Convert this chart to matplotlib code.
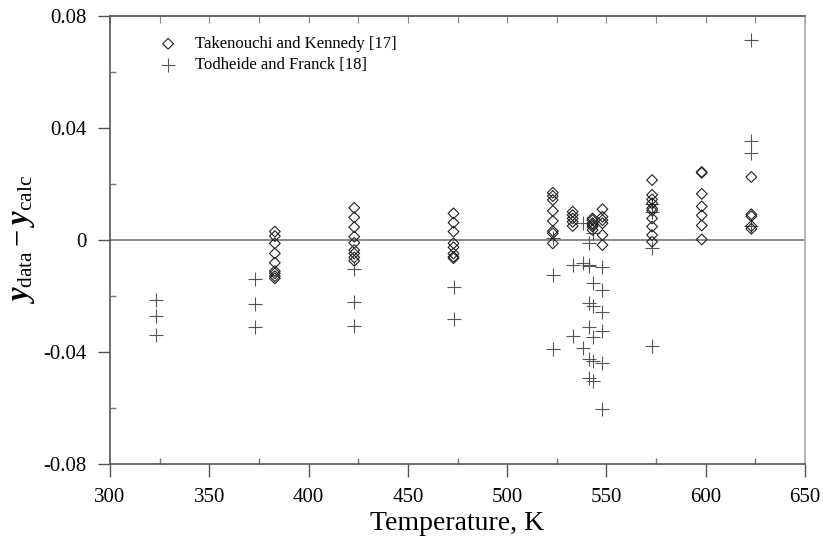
import numpy as np
import matplotlib
matplotlib.use('Agg')
from matplotlib import pyplot as plt
from matplotlib.ticker import MultipleLocator

plt.rcParams['font.family'] = ['Liberation Serif', 'DejaVu Serif']
plt.rcParams['mathtext.fontset'] = 'custom'
plt.rcParams['mathtext.rm'] = 'Liberation Serif'
plt.rcParams['mathtext.it'] = 'Liberation Serif:italic:bold'

# Takenouchi and Kennedy [17]  (diamonds)
tk_T = [383]*9 + [423]*9 + [473]*8 + [523]*8 + [533]*5 + [543]*6 + [548]*6 + [573]*10 + [598]*7 + [623]*5
tk_dy = [0.0030, 0.0014, -0.0012, -0.0048, -0.0081, -0.0111, -0.0119, -0.0129, -0.0137,
         0.0115, 0.0081, 0.0046, 0.0012, -0.0010, -0.0036, -0.0048, -0.0062, -0.0074,
         0.0095, 0.0062, 0.0030, -0.0012, -0.0026, -0.0048, -0.0060, -0.0065,
         0.0169, 0.0157, 0.0143, 0.0104, 0.0068, 0.0032, 0.0024, -0.0012,
         0.0101, 0.0089, 0.0077, 0.0065, 0.0050,
         0.0077, 0.0071, 0.0060, 0.0054, 0.0048, 0.0036,
         0.0110, 0.0083, 0.0071, 0.0060, 0.0018, -0.0018,
         0.0214, 0.0161, 0.0145, 0.0131, 0.0113, 0.0105, 0.0077, 0.0048, 0.0018, -0.0006,
         0.0243, 0.0240, 0.0165, 0.0120, 0.0088, 0.0052, 0.0002,
         0.0225, 0.0092, 0.0085, 0.0050, 0.0040]

# Todheide and Franck [18]  (pluses)
tf_T = [323]*3 + [373]*3 + [423]*3 + [473]*2 + [523]*3 + [533]*2 + [538]*3 + [541]*7 + [543]*6 + [548]*6 + [573]*4 + [623]*4
tf_dy = [-0.0214, -0.0270, -0.0339,
         -0.0138, -0.0230, -0.0312,
         -0.0102, -0.0220, -0.0307,
         -0.0167, -0.0283,
         0.0008, -0.0125, -0.0390,
         -0.0089, -0.0343,
         0.0062, -0.0081, -0.0387,
         -0.0012, -0.0089, -0.0093, -0.0226, -0.0312, -0.0426, -0.0494,
         0.0024, -0.0152, -0.0236, -0.0345, -0.0431, -0.0503,
         -0.0095, -0.0179, -0.0256, -0.0324, -0.0438, -0.0605,
         0.0130, 0.0100, -0.0030, -0.0380,
         0.0715, 0.0355, 0.0310, 0.0050]

fig = plt.figure(figsize=(8.23, 5.39), dpi=100)
ax = fig.add_axes([0.1337, 0.1391, 0.8444, 0.8312])

ax.axhline(0, color='#808080', lw=1.3, zorder=1)

ax.scatter(tk_T, tk_dy, marker='D', s=30, facecolors='none', edgecolors='#222222',
           linewidths=0.8, zorder=3, label='Takenouchi and Kennedy [17]')
ax.scatter(tf_T, tf_dy, marker='+', s=90, color='#555555', linewidths=0.8,
           zorder=2, label='Todheide and Franck [18]')

ax.set_xlim(300, 650)
ax.set_ylim(-0.08, 0.08)
ax.xaxis.set_major_locator(MultipleLocator(50))
ax.xaxis.set_minor_locator(MultipleLocator(25))
ax.yaxis.set_major_locator(MultipleLocator(0.04))
ax.yaxis.set_minor_locator(MultipleLocator(0.02))
ax.set_yticks([-0.08, -0.04, 0, 0.04, 0.08])
ax.set_yticklabels(['-0.08', '-0.04', '0', '0.04', '0.08'])

ax.tick_params(which='major', direction='out', length=9, width=1, color='#555555',
               labelsize=15, pad=8)
ax.tick_params(which='minor', direction='in', length=4, width=1, color='#777777')

top = ax.secondary_xaxis('top')
top.xaxis.set_major_locator(MultipleLocator(25))
top.tick_params(direction='in', length=5, color='#888888', labeltop=False)
top.spines['top'].set_color('#666666')
top.spines['top'].set_linewidth(1.2)

ax.spines['left'].set_color('#555555')
ax.spines['bottom'].set_color('#555555')
ax.spines['top'].set_color('#666666')
ax.spines['right'].set_color('#aaaaaa')
for s in ax.spines.values():
    s.set_linewidth(1.2)

ax.set_xlabel('Temperature, K', fontsize=20, labelpad=3)
ax.set_ylabel(r'$y_{\mathrm{data}} - y_{\mathrm{calc}}$', fontsize=22, labelpad=4)

ax.legend(loc='upper left', bbox_to_anchor=(0.05, 0.97), frameon=False, fontsize=12,
          handletextpad=0.6, labelspacing=0.3, borderaxespad=0)

fig.savefig('out.png', dpi=100)
